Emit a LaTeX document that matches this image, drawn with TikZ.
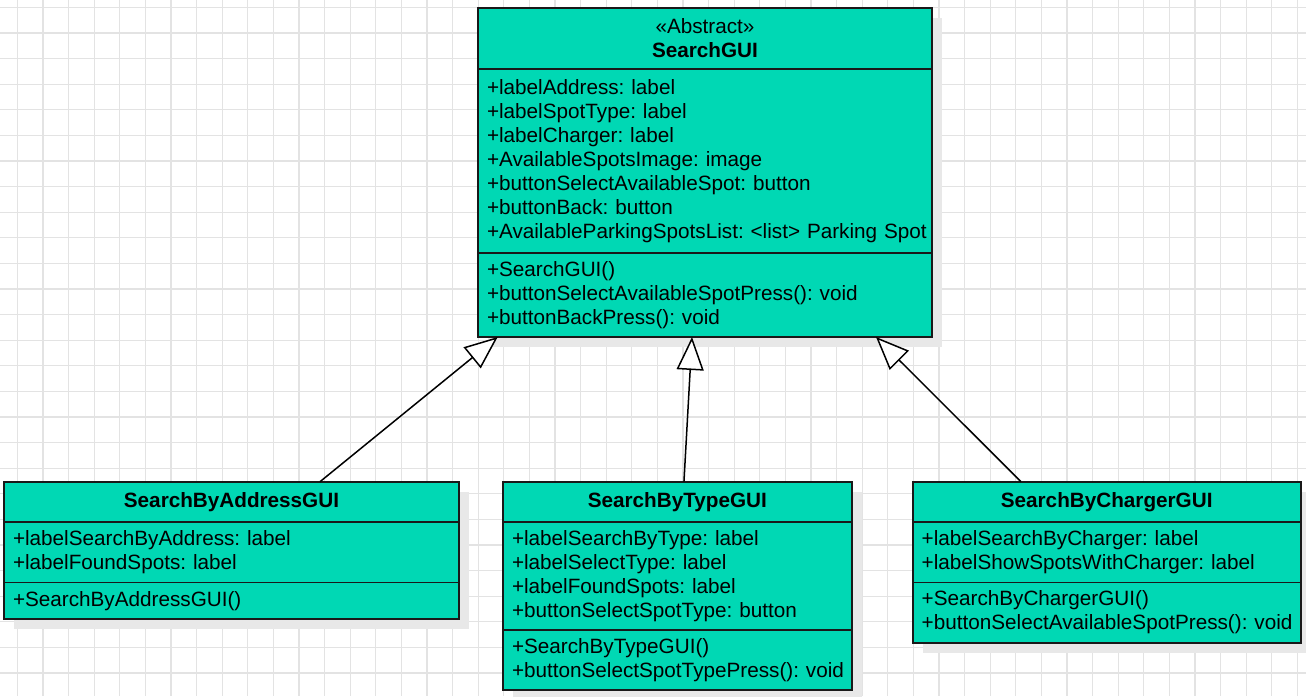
\documentclass[tikz,border=0pt]{standalone}
\usepackage{fontspec}
\setmainfont{Liberation Sans}
\usepackage{tikz}
\usetikzlibrary{arrows.meta,shadows}
\definecolor{umlfill}{HTML}{00D8B4}
\definecolor{gridgray}{HTML}{E3E3E3}
\frenchspacing

\begin{document}
\begin{tikzpicture}[x=0.5pt,y=-0.5pt,
		part/.style={draw=black!90,fill=umlfill,line width=0.8pt,anchor=north west,outer sep=0pt,
			inner xsep=0pt,inner ysep=0pt,font=\fontsize{10.35}{12}\selectfont,
			drop shadow={shadow xshift=5pt,shadow yshift=-5pt,fill=black!9,opacity=1}},
		attrs/.style={part,align=left,execute at begin node={\leftskip=4.5pt}},
		head/.style={part,align=center},
		gridln/.style={gridgray,line width=0.6pt},
		inherit/.style={line width=0.75pt,-{Triangle[length=16.5pt,width=13.5pt,fill=white]}}]
			\useasboundingbox (0,0) rectangle (1306,696);
			\fill[white] (0,0) rectangle (1306,696);
			\foreach \k in {0,...,50}
				\draw[gridln] (17.3+25.6*\k,0) -- (17.3+25.6*\k,696);
			\foreach \k in {0,...,27}
				\draw[gridln] (0,7.3+25.6*\k) -- (1306,7.3+25.6*\k);
			\node[head,text width=227pt,minimum height=30.5pt] (gui-h) at (478,8) {«Abstract»\\\textbf{SearchGUI}};
			\node[attrs,text width=227pt,minimum height=92pt] (gui-a) at (gui-h.south west) {+labelAddress: label\\+labelSpotType: label\\+labelCharger: label\\+AvailableSpotsImage: image\\+buttonSelectAvailableSpot: button\\+buttonBack: button\\+AvailableParkingSpotsList: <list> Parking Spot};
			\node[attrs,text width=227pt,minimum height=42pt] (gui-m) at (gui-a.south west) {+SearchGUI()\\+buttonSelectAvailableSpotPress(): void\\+buttonBackPress(): void};
			\node[head,text width=227.5pt,minimum height=20pt] (addr-h) at (4,481.7) {\textbf{SearchByAddressGUI}};
			\node[attrs,text width=227.5pt,minimum height=30.3pt] (addr-a) at (addr-h.south west) {+labelSearchByAddress: label\\+labelFoundSpots: label};
			\node[attrs,text width=227.5pt,minimum height=18.35pt] (addr-m) at (addr-a.south west) {+SearchByAddressGUI()};
			\node[head,text width=174.35pt,minimum height=20pt] (type-h) at (503,481.7) {\textbf{SearchByTypeGUI}};
			\node[attrs,text width=174.35pt,minimum height=54.15pt] (type-a) at (type-h.south west) {+labelSearchByType: label\\+labelSelectType: label\\+labelFoundSpots: label\\+buttonSelectSpotType: button};
			\node[attrs,text width=174.35pt,minimum height=30pt] (type-m) at (type-a.south west) {+SearchByTypeGUI()\\+buttonSelectSpotTypePress(): void};
			\node[head,text width=194pt,minimum height=20pt] (chg-h) at (912.7,481.7) {\textbf{SearchByChargerGUI}};
			\node[attrs,text width=194pt,minimum height=30.3pt] (chg-a) at (chg-h.south west) {+labelSearchByCharger: label\\+labelShowSpotsWithCharger: label};
			\node[attrs,text width=194pt,minimum height=30.2pt] (chg-m) at (chg-a.south west) {+SearchByChargerGUI()\\+buttonSelectAvailableSpotPress(): void};
			\draw[inherit] ([xshift=44.25pt]addr-h.north) -- ([xshift=-103.65pt]gui-m.south);
			\draw[inherit] ([xshift=3.3pt]type-h.north) -- ([xshift=-6.5pt]gui-m.south);
			\draw[inherit] ([xshift=-42.85pt]chg-h.north) -- ([xshift=85.5pt]gui-m.south);
		\end{tikzpicture}
\end{document}
